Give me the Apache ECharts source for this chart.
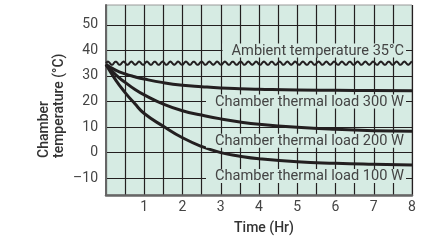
<!DOCTYPE html>
<html><head><meta charset="utf-8">
<script src="https://cdn.jsdelivr.net/npm/echarts@6/dist/echarts.min.js"></script>
<style>html,body{margin:0;padding:0;background:#fff}#c{width:421px;height:240px}</style>
</head><body><div id="c"></div>
<script>
const hours   = [0, 0.25, 0.5, 0.75, 1, 1.5, 2, 2.5, 3, 3.5, 4, 5, 6, 7, 8];
const load300 = [34.5, 32.3, 30.8, 29.7, 28.8, 27.4, 26.4, 25.8, 25.3, 25.0, 24.8, 24.5, 24.4, 24.3, 24.2];
const load200 = [34.5, 30.5, 27.5, 24.8, 22.6, 19.0, 16.4, 14.7, 13.2, 12.0, 11.1, 9.9, 9.1, 8.6, 8.4];
const load100 = [34.5, 28.5, 23.5, 19.2, 15.3, 10.3, 5.8, 2.4, 0.0, -1.4, -2.4, -3.6, -4.2, -4.6, -4.9];
const ambientSpan = [0, 8];
const ambientTemp = 35;
const yTicks = [-10, 0, 10, 20, 30, 40, 50];
const xTickLabels = [1, 2, 3, 4, 5, 6, 7, 8];
const curveLabels = ['Ambient temperature 35°C', 'Chamber thermal load 300 W', 'Chamber thermal load 200 W', 'Chamber thermal load 100 W'];
const curveLabelY = [40, 20, 4.6, -9.2];
const curveLabelX = 8;
const xTitle = 'Time (Hr)';
const yTitle = 'Chamber\ntemperature (°C)';

const BG = '#d6ebe3';
const INK = '#231f20';
const FONT = 'Roboto';
const LABEL_FONT = '14.6px ' + FONT;

const measureCtx = document.createElement('canvas').getContext('2d');
function textWidth(t, font) { measureCtx.font = font; return measureCtx.measureText(t).width; }

const chart = echarts.init(document.getElementById('c'), null, {renderer: 'canvas'});
const pairs = arr => hours.map((h, i) => [h, arr[i]]);
const curveSeries = arr => ({
  type: 'line', data: pairs(arr), smooth: true, symbol: 'none',
  lineStyle: {color: INK, width: 3}, z: 3
});

chart.setOption({
  animation: false,
  grid: {left: 106, right: 9, top: 5, bottom: 44, show: true, backgroundColor: BG, borderColor: '#9a9a9a', borderWidth: 1},
  xAxis: {
    type: 'value', min: 0, max: 8, interval: 0.5,
    axisLine: {show: true, onZero: false, lineStyle: {color: '#666', width: 2.5}},
    axisTick: {show: false},
    splitLine: {show: true, lineStyle: {color: INK, width: 1.2}},
    axisLabel: {
      margin: 5, color: '#444', fontSize: 14, fontFamily: FONT,
      formatter: v => xTickLabels.indexOf(v) >= 0 ? String(v) : ''
    },
    name: xTitle, nameLocation: 'middle', nameGap: 26,
    nameTextStyle: {fontSize: 14, fontWeight: 500, color: '#333', fontFamily: FONT, padding: [0, 0, 0, 10]}
  },
  yAxis: {
    type: 'value', min: -16.6, max: 57.8,
    axisLine: {show: true, onZero: false, lineStyle: {color: '#666', width: 2}},
    axisTick: {show: false, customValues: yTicks},
    splitLine: {show: true, lineStyle: {color: INK, width: 1.2}},
    axisLabel: {
      customValues: yTicks, margin: 8, color: '#444', fontSize: 14, fontFamily: FONT,
      formatter: v => v < 0 ? '\u2013' + Math.abs(v) : String(v)
    }
  },
  graphic: [{
    type: 'text', x: 52, y: 158, rotation: Math.PI / 2,
    style: {text: yTitle, textAlign: 'left', textVerticalAlign: 'middle', lineHeight: 15.5,
      font: '500 14px ' + FONT, fill: '#333'}
  }],
  series: [
    {
      type: 'custom', z: 3,
      data: [[ambientSpan[0], ambientSpan[1], ambientTemp]],
      renderItem: (params, api) => {
        const p0 = api.coord([api.value(0), api.value(2)]);
        const p1 = api.coord([api.value(1), api.value(2)]);
        const pts = [];
        const period = 7.8, amp = 1.6;
        for (let x = p0[0]; x <= p1[0]; x += 0.5) {
          pts.push([x, p0[1] - amp * Math.sin((x - p0[0]) / period * 2 * Math.PI)]);
        }
        return {type: 'polyline', shape: {points: pts}, style: {stroke: INK, lineWidth: 2, fill: null}};
      }
    },
    curveSeries(load300),
    curveSeries(load200),
    curveSeries(load100),
    {
      type: 'custom', z: 6, clip: false,
      data: curveLabels.map((t, i) => [curveLabelX, curveLabelY[i], i]),
      renderItem: (params, api) => {
        const p = api.coord([api.value(0), api.value(1)]);
        const txt = curveLabels[api.value(2)];
        const right = p[0] - 8;
        const w = textWidth(txt, LABEL_FONT);
        return {
          type: 'group',
          children: [
            {type: 'rect', z2: 1, shape: {x: right - w - 9, y: p[1] - 7, width: w + 11, height: 14},
              style: {fill: BG}},
            {type: 'text', z2: 2, x: right, y: p[1] + 0.5,
              style: {text: txt, align: 'right', verticalAlign: 'middle', font: LABEL_FONT, fill: '#444'}}
          ]
        };
      }
    }
  ]
});
</script></body></html>
